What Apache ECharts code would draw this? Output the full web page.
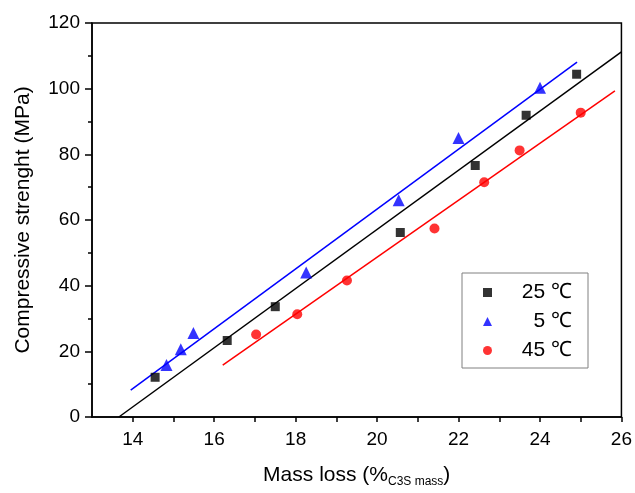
<!DOCTYPE html>
<html><head><meta charset="utf-8">
<script src="https://cdn.jsdelivr.net/npm/echarts@6/dist/echarts.min.js"></script>
<style>html,body{margin:0;padding:0;background:#fff}#c{width:635px;height:493px}</style>
</head><body><div id="c"></div>
<script>
// Data
const seriesNames = ['25 ℃', '5 ℃', '45 ℃'];
const massLoss25 = [14.55, 16.32, 17.5, 20.57, 22.41, 23.66, 24.9];
const strength25 = [12.1, 23.3, 33.6, 56.2, 76.6, 91.9, 104.4];
const massLoss5 = [14.83, 15.18, 15.49, 18.26, 20.53, 22.0, 24.0];
const strength5 = [15.8, 20.6, 25.6, 44.0, 66.0, 85.0, 100.3];
const massLoss45 = [17.03, 18.04, 19.26, 21.41, 22.63, 23.5, 25.0];
const strength45 = [25.1, 31.3, 41.6, 57.4, 71.5, 81.2, 92.7];
// linear fit lines: [xStart, xEnd], [yStart, yEnd]
const fit25X = [13.66, 26.0], fit25Y = [0, 111.2];
const fit5X = [13.95, 24.91], fit5Y = [8.2, 108.1];
const fit45X = [16.21, 25.84], fit45Y = [15.8, 99.3];
const xTicks = [14, 15, 16, 17, 18, 19, 20, 21, 22, 23, 24, 25, 26];
const xLabels = [14, 16, 18, 20, 22, 24, 26];

const pairs = (xs, ys) => xs.map((x, i) => [x, ys[i]]);
const FONT = 'Liberation Sans, Arial, sans-serif';
const chart = echarts.init(document.getElementById('c'));
chart.setOption({
  animation: false,
  grid: { left: 92, top: 23, right: 11, bottom: 75, show: true, borderColor: '#000', borderWidth: 1.5 },
  xAxis: {
    type: 'value', min: 13, max: 26,
    name: '{a|Mass loss (%}{b|C3S mass}{a|)}',
    nameLocation: 'middle', nameGap: 46,
    nameTextStyle: { rich: { a: { fontSize: 21, fontFamily: FONT, color: '#000' }, b: { fontSize: 12, fontFamily: FONT, color: '#000', padding: [13, 0, 0, 0] } } },
    axisLine: { show: true, lineStyle: { color: '#000', width: 1.5 } },
    axisTick: { show: true, customValues: xTicks, length: 5, lineStyle: { color: '#000', width: 1.5 } },
    axisLabel: { customValues: xLabels, fontSize: 19, fontFamily: FONT, color: '#000', margin: 13 },
    splitLine: { show: false }
  },
  yAxis: {
    type: 'value', min: 0, max: 120, interval: 20,
    name: 'Compressive strenght (MPa)', nameLocation: 'middle', nameGap: 58,
    nameTextStyle: { fontSize: 21, fontFamily: FONT, color: '#000' },
    axisLine: { show: true, lineStyle: { color: '#000', width: 1.5 } },
    axisTick: { show: true, length: 7, lineStyle: { color: '#000', width: 1.5 } },
    minorTick: { show: true, splitNumber: 2, length: 4, lineStyle: { color: '#000', width: 1.5 } },
    axisLabel: { fontSize: 19, fontFamily: FONT, color: '#000', margin: 12 },
    splitLine: { show: false }
  },
  legend: {
    data: seriesNames, orient: 'vertical', left: 462, top: 273,
    padding: [9, 16, 7, 21], itemGap: 8, itemWidth: 9, itemHeight: 9,
    borderColor: '#808080', borderWidth: 1,
    formatter: '{t|{name}}',
    textStyle: { rich: { t: { width: 75, height: 20, lineHeight: 20, align: 'right', fontSize: 21, fontFamily: FONT, color: '#000' } } }
  },
  series: [
    { name: 'fit25', type: 'line', data: pairs(fit25X, fit25Y), symbol: 'none', lineStyle: { color: '#000', width: 1.5 }, z: 1 },
    { name: 'fit5', type: 'line', data: pairs(fit5X, fit5Y), symbol: 'none', lineStyle: { color: '#0000ff', width: 1.5 }, z: 1 },
    { name: 'fit45', type: 'line', data: pairs(fit45X, fit45Y), symbol: 'none', lineStyle: { color: '#ff0000', width: 1.5 }, z: 1 },
    { name: seriesNames[0], type: 'scatter', data: pairs(massLoss25, strength25), symbol: 'rect', symbolSize: 9, itemStyle: { color: '#000' }, z: 3 },
    { name: seriesNames[1], type: 'scatter', data: pairs(massLoss5, strength5), symbol: 'triangle', symbolSize: 12, itemStyle: { color: '#0000ff' }, z: 3 },
    { name: seriesNames[2], type: 'scatter', data: pairs(massLoss45, strength45), symbol: 'circle', symbolSize: 10, itemStyle: { color: '#ff0000' }, z: 3 }
  ]
});
</script></body></html>
